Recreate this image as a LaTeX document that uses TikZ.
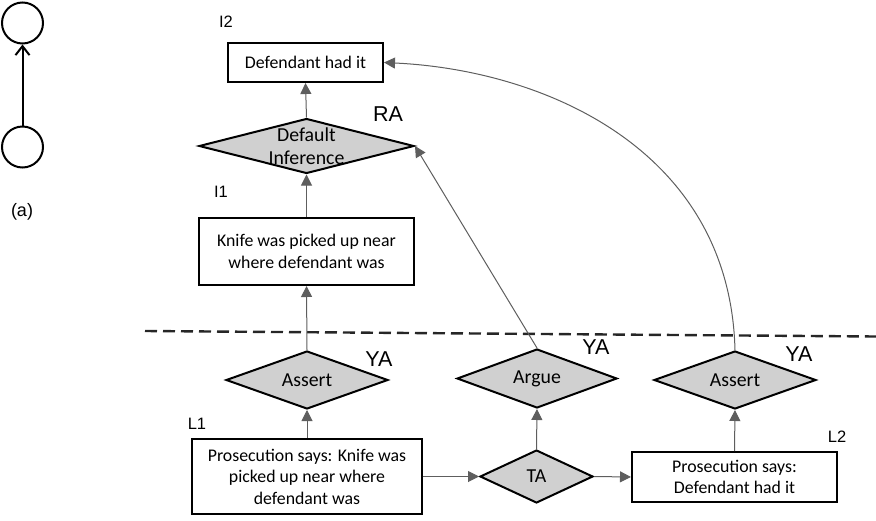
\documentclass[tikz,border=0pt]{standalone}
\usepackage{fontspec}
\setmainfont{Carlito}
\newfontfamily\arialf{Liberation Sans}
\usetikzlibrary{shapes.geometric,arrows.meta}
\definecolor{diagrey}{HTML}{D0D0D0}
\definecolor{linegrey}{HTML}{5E5E5E}
\begin{document}
\begin{tikzpicture}[x=1pt,y=-1pt,
 box/.style={draw=black,line width=2pt,fill=white,inner sep=0pt,align=center,font=\fontsize{17.8}{21.5}\selectfont},
 dia/.style={diamond,draw=black,line width=2pt,fill=diagrey,inner sep=0pt},
 dtext/.style={font=\fontsize{19.8}{23}\selectfont,align=center,inner sep=0pt},
 lab/.style={font=\arialf\fontsize{16.5}{19}\selectfont,inner sep=0pt},
 biglab/.style={font=\arialf\fontsize{21.5}{24}\selectfont,inner sep=0pt},
 con/.style={draw=linegrey,line width=1pt,-{Triangle[length=11pt,width=11pt]}},
]
\useasboundingbox (0,0) rectangle (876,520);

% left legend
\node[circle,draw=black,line width=2pt,minimum size=41pt,inner sep=0pt] (ct) at (22.5,23) {};
\node[circle,draw=black,line width=2pt,minimum size=41pt,inner sep=0pt] (cb) at (22.5,147) {};
\draw[line width=2pt,-{Straight Barb[length=9pt,width=14pt,line width=2pt]}] (cb) -- (ct);
\node[lab,font=\arialf\fontsize{18}{20}\selectfont] (a) at (22,212) {(a)};

% dashed separator
\coordinate (dl) at (145,331);
\coordinate (dr) at (876,336.5);
\draw[line width=2.4pt,draw=black!85,dash pattern=on 12pt off 6pt] (dl) -- (dr);

% boxes
\node[box,minimum width=155pt,minimum height=39pt] (i2) at (305.5,62.5) {Defendant had it};
\node[box,minimum width=215pt,minimum height=67pt] (i1) at (306.5,251.5) {Knife was picked up near\\where defendant was};
\node[box,minimum width=230pt,minimum height=75pt] (l1) at (307,476.5) {Prosecution says: Knife was\\picked up near where\\defendant was};
\node[box,minimum width=205pt,minimum height=50pt] (l2) at (734.5,477) {Prosecution says:\\Defendant had it};

% diamonds
\node[dia,minimum width=215pt,minimum height=55pt,label={[dtext]center:{Default\\Inference}}] (ra) at (306.5,146) {};
\node[dia,minimum width=162pt,minimum height=58pt,label={[dtext]center:Assert}] (as1) at (307,380) {};
\node[dia,minimum width=160pt,minimum height=59pt,label={[dtext]center:Argue}] (ar) at (537,378.5) {};
\node[dia,minimum width=162pt,minimum height=58pt,label={[dtext]center:Assert}] (as2) at (735,380) {};
\node[dia,minimum width=113pt,minimum height=53pt,label={[dtext]center:TA}] (ta) at (536.5,476.5) {};

% labels
\node[lab] (li2) at (226,22) {I2};
\node[lab] (li1) at (221,192) {I1};
\node[lab] (ll1) at (197,424) {L1};
\node[lab] (ll2) at (837,437) {L2};
\node[biglab] (lra) at (388,114) {RA};
\node[biglab] (lya1) at (379,359.5) {YA};
\node[biglab] (lya2) at (596,347.5) {YA};
\node[biglab] (lya3) at (799,354.5) {YA};

% connectors
\draw[con] (l1.north) -- (as1.south);
\draw[con] (as1.north) -- (i1.south);
\draw[con] (i1.north) -- (ra.south);
\draw[con] (ra.north) -- (i2.south);
\draw[con] (l1.east) -- (ta.west);
\draw[con] (ta.east) -- (l2.west);
\draw[con] (ta.north) -- (ar.south);
\draw[con] (l2.north) -- (as2.south);
\draw[con] (ar.north) -- (ra.east);
\draw[con] (as2.north) .. controls (730,150) and (545,70) .. (i2.east);
\end{tikzpicture}
\end{document}
